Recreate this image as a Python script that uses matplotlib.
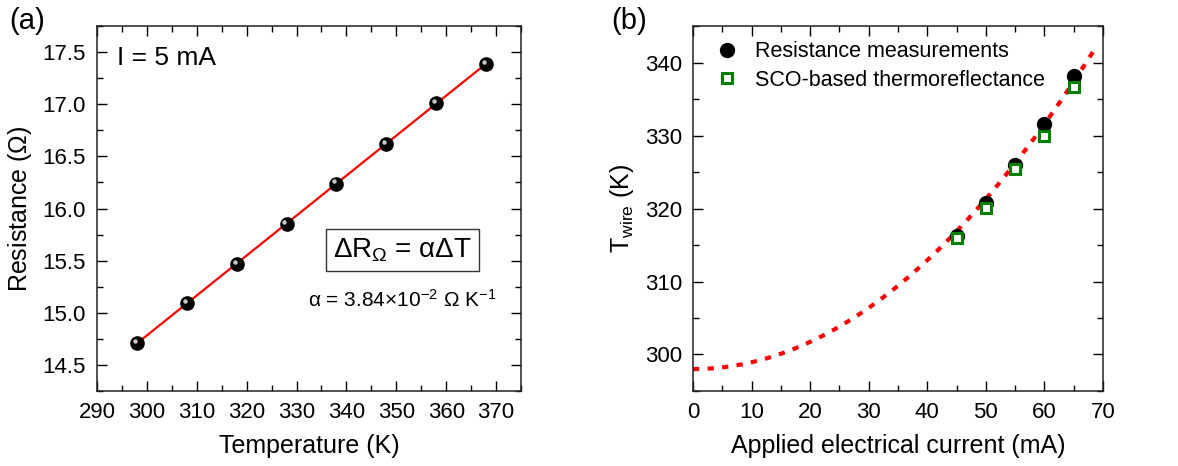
import numpy as np
import matplotlib
matplotlib.use('Agg')
import matplotlib.pyplot as plt
from matplotlib.ticker import MultipleLocator
from matplotlib.transforms import ScaledTranslation

plt.rcParams['font.family'] = ['Liberation Sans', 'DejaVu Sans']
plt.rcParams['mathtext.fontset'] = 'custom'
plt.rcParams['mathtext.rm'] = 'Liberation Sans'
plt.rcParams['mathtext.it'] = 'Liberation Sans'

# (a) resistance vs temperature at I = 5 mA
temp_a = [298, 308, 318, 328, 338, 348, 358, 368]
res_a = [14.71, 15.09, 15.47, 15.85, 16.24, 16.62, 17.01, 17.39]

# (b) wire temperature vs applied current
current_b = [45, 50, 55, 60, 65]
t_res_b = [316.3, 320.7, 325.9, 331.6, 338.2]
t_sco_b = [315.9, 320.1, 325.4, 329.9, 336.7]
t_ambient = 298.0
fit_range_b = (0, 69)

green = '#008000'
tick_fs = 16
label_fs = 18

fig = plt.figure(figsize=(11.78, 4.66), dpi=100)
ax1 = fig.add_axes([0.0823, 0.161, 0.360, 0.783])
ax2 = fig.add_axes([0.5883, 0.161, 0.348, 0.783])

# ---- panel (a)
slope, icpt = np.polyfit(temp_a, res_a, 1)
tt = np.array([temp_a[0], temp_a[-1]])
ax1.plot(tt, slope * tt + icpt, color='red', lw=1.6, zorder=2)
ax1.plot(temp_a, res_a, 'o', color='black', ms=9.5, zorder=3)
hl = ax1.transData + ScaledTranslation(-1.5 / 72, 1.5 / 72, fig.dpi_scale_trans)
ax1.plot(temp_a, res_a, 'o', color='#c8c8c8', ms=3.2, mew=0, transform=hl, zorder=4)

ax1.set_xlim(290, 375)
ax1.set_ylim(14.25, 17.75)
ax1.xaxis.set_major_locator(MultipleLocator(10))
ax1.xaxis.set_minor_locator(MultipleLocator(5))
ax1.yaxis.set_major_locator(MultipleLocator(0.5))
ax1.yaxis.set_minor_locator(MultipleLocator(0.25))
ax1.set_xlabel('Temperature (K)', fontsize=label_fs, labelpad=8)
ax1.set_ylabel(r'Resistance ($\Omega$)', fontsize=label_fs, labelpad=6)

ax1.text(0.047, 0.912, 'I = 5 mA', transform=ax1.transAxes, fontsize=19,
         ha='left', va='center')
ax1.text(0.72, 0.386, r'$\Delta$R$_\Omega$ = $\alpha\Delta$T', transform=ax1.transAxes,
         fontsize=20, ha='center', va='center',
         bbox=dict(boxstyle='square,pad=0.25', fc='white', ec='#333333', lw=1))
ax1.text(0.72, 0.25, r'$\alpha$ = 3.84$\times$10$^{-2}$ $\Omega$ K$^{-1}$',
         transform=ax1.transAxes, fontsize=15, ha='center', va='center')

# ---- panel (b)
i_arr = np.array(current_b, dtype=float)
k = np.sum((np.array(t_res_b) - t_ambient) * i_arr ** 2) / np.sum(i_arr ** 4)
ii = np.linspace(fit_range_b[0], fit_range_b[1], 200)
ax2.plot(ii, t_ambient + k * ii ** 2, color='red', lw=3, ls=(0, (1.5, 2.0)), zorder=2)
ax2.plot(current_b, t_res_b, 'o', color='black', ms=10, zorder=3,
         label='Resistance measurements')
ax2.plot(current_b, t_sco_b, 's', mfc='white', mec=green, mew=2.2, ms=7.5, zorder=4,
         label='SCO-based thermoreflectance')

ax2.set_xlim(0, 70)
ax2.set_ylim(295, 345)
ax2.xaxis.set_major_locator(MultipleLocator(10))
ax2.xaxis.set_minor_locator(MultipleLocator(5))
ax2.yaxis.set_major_locator(MultipleLocator(10))
ax2.yaxis.set_minor_locator(MultipleLocator(5))
ax2.set_xlabel('Applied electrical current (mA)', fontsize=label_fs, labelpad=8)
ax2.set_ylabel(r'T$_{\rm wire}$ (K)', fontsize=label_fs, labelpad=6)
ax2.legend(loc='upper left', bbox_to_anchor=(0.02, 1.0), frameon=False,
           fontsize=15.5, handlelength=1.0, handletextpad=0.8, labelspacing=0.35,
           borderaxespad=0.3)

for ax in (ax1, ax2):
    ax.tick_params(which='both', direction='in', top=True, right=True,
                   labelsize=tick_fs, colors='black', width=1)
    ax.tick_params(which='major', length=7, pad=8)
    ax.tick_params(which='minor', length=4)
    for sp in ax.spines.values():
        sp.set_linewidth(1.1)
        sp.set_color('#222222')

fig.text(0.008, 0.955, '(a)', fontsize=21, ha='left', va='center')
fig.text(0.519, 0.955, '(b)', fontsize=21, ha='left', va='center')

fig.savefig('out.png', dpi=100)
